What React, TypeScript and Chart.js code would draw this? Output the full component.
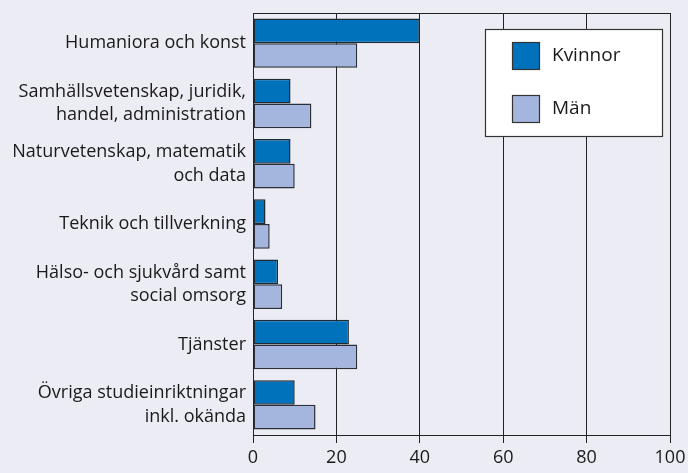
import React, { useEffect, useRef } from "react";
import { Chart, registerables } from "chart.js";

Chart.register(...registerables);

const categories: (string | string[])[] = [
  "Humaniora och konst",
  ["Samhällsvetenskap, juridik,", "handel, administration"],
  ["Naturvetenskap, matematik", "och data"],
  "Teknik och tillverkning",
  ["Hälso- och sjukvård samt", "social omsorg"],
  "Tjänster",
  ["Övriga studieinriktningar", "inkl. okända"],
];
const kvinnor = [40, 9, 9, 3, 6, 23, 10];
const man = [25, 14, 10, 4, 7, 25, 15];
const xTicks = [0, 20, 40, 60, 80, 100];

const FONT = "'Open Sans', 'DejaVu Sans', sans-serif";
const BG = "#ececf4";
const LINE = "#222222";

const bgPlugin = {
  id: "bgPlugin",
  beforeDraw(chart: any) {
    const { ctx, width, height } = chart;
    ctx.save();
    ctx.fillStyle = BG;
    ctx.fillRect(0, 0, width, height);
    ctx.restore();
  },
  afterDraw(chart: any) {
    const { ctx, chartArea } = chart;
    ctx.save();
    ctx.strokeStyle = LINE;
    ctx.lineWidth = 1;
    ctx.beginPath();
    ctx.moveTo(chartArea.left, chartArea.top + 0.5);
    ctx.lineTo(chartArea.right, chartArea.top + 0.5);
    ctx.stroke();
    const bw = 177;
    const bh = 107;
    const bx = chartArea.right - 8 - bw;
    const by = chartArea.top + 16;
    ctx.fillStyle = "#ffffff";
    ctx.fillRect(bx, by, bw, bh);
    ctx.strokeStyle = "#333333";
    ctx.lineWidth = 1.2;
    ctx.strokeRect(bx + 0.5, by + 0.5, bw, bh);
    const ds = chart.data.datasets;
    ds.forEach((d: any, i: number) => {
      const sx = bx + 27;
      const sy = by + 13 + i * 53;
      ctx.fillStyle = d.backgroundColor;
      ctx.fillRect(sx, sy, 27, 27);
      ctx.strokeStyle = "#333333";
      ctx.lineWidth = 1.2;
      ctx.strokeRect(sx + 0.5, sy + 0.5, 27, 27);
      ctx.fillStyle = "#1a1a1a";
      ctx.font = `19px ${FONT}`;
      ctx.textAlign = "left";
      ctx.textBaseline = "middle";
      ctx.fillText(d.label, sx + 40, sy + 14);
    });
    ctx.restore();
  },
};

export default function App() {
  const ref = useRef<HTMLCanvasElement | null>(null);
  useEffect(() => {
    document.body.style.margin = "0";
    const chart = new Chart(ref.current as HTMLCanvasElement, {
      type: "bar",
      data: {
        labels: categories as any,
        datasets: [
          {
            label: "Kvinnor",
            data: kvinnor,
            backgroundColor: "#0071bb",
            borderColor: "#1f2a33",
            borderWidth: 1.5,
            borderSkipped: false,
          },
          {
            label: "Män",
            data: man,
            backgroundColor: "#a4b6dd",
            borderColor: "#2a2f3a",
            borderWidth: 1.5,
            borderSkipped: false,
          },
        ],
      },
      options: {
        indexAxis: "y",
        animation: false,
        responsive: false,
        maintainAspectRatio: false,
        layout: { padding: { left: 0, right: 18, top: 13, bottom: 0 } },
        datasets: { bar: { categoryPercentage: 0.82, barPercentage: 1.0 } },
        plugins: {
          legend: { display: false },
          tooltip: { enabled: false },
        },
        scales: {
          x: {
            min: 0,
            max: 100,
            afterBuildTicks(scale: any) {
              scale.ticks = xTicks.map((v) => ({ value: v }));
            },
            afterFit(scale: any) {
              scale.height = 38;
              scale.paddingLeft = 0;
              scale.paddingRight = 0;
            },
            grid: {
              color: LINE,
              lineWidth: 1,
              drawTicks: true,
              tickLength: 8,
              tickColor: LINE,
            },
            border: { display: true, color: LINE, width: 1 },
            ticks: {
              color: "#1a1a1a",
              font: { family: FONT, size: 18 },
              padding: 4,
              maxRotation: 0,
            },
          },
          y: {
            afterFit(scale: any) {
              scale.width = 253;
              scale.paddingTop = 0;
              scale.paddingBottom = 0;
            },
            grid: { display: false, drawTicks: false },
            border: { display: true, color: LINE, width: 1 },
            ticks: {
              color: "#1a1a1a",
              font: { family: FONT, size: 18, lineHeight: 1.3 },
              padding: 7,
            },
          },
        },
      },
      plugins: [bgPlugin],
    } as any);
    return () => chart.destroy();
  }, []);
  return (
    <div style={{ width: 688, height: 473 }}>
      <canvas ref={ref} width={688} height={473} />
    </div>
  );
}
